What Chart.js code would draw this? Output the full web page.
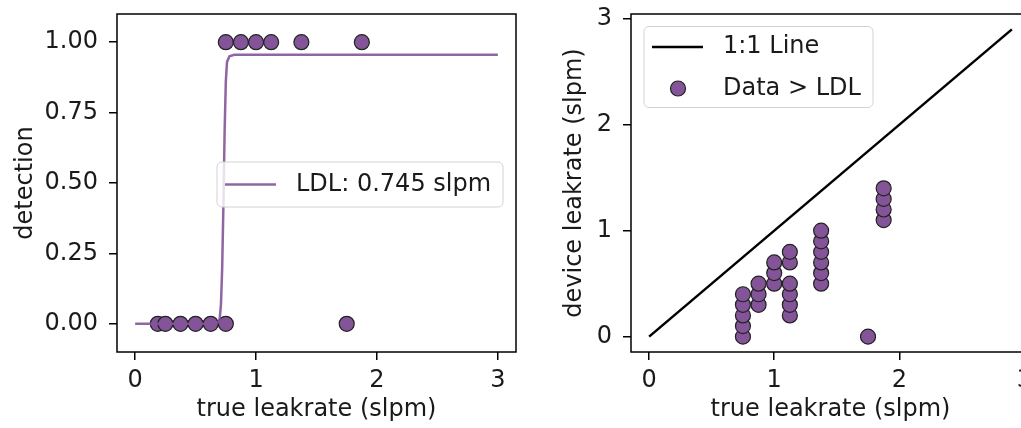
<!DOCTYPE html>
<html>
<head>
<meta charset="utf-8">
<script src="https://cdn.jsdelivr.net/npm/chart.js@4.4.1/dist/chart.umd.min.js"></script>
<style>
  html, body { margin: 0; padding: 0; background: #fff; width: 1021px; height: 428px; overflow: hidden; }
  .panel { position: absolute; top: 0; }
  #leftPanel { left: 0; }
  #rightPanel { left: 530px; }
</style>
</head>
<body>
<div class="panel" id="leftPanel"><canvas id="detChart" width="530" height="428"></canvas></div>
<div class="panel" id="rightPanel"><canvas id="rateChart" width="530" height="428"></canvas></div>
<script>
// left panel: detected (1) / missed (0) per release vs true leak rate
const DET_RATE = [0.1875, 0.25, 0.375, 0.5, 0.625, 0.75, 1.75, 0.75, 0.875, 1.0, 1.125, 1.375, 1.875];
const DET_HIT  = [0, 0, 0, 0, 0, 0, 0, 1, 1, 1, 1, 1, 1];
// fitted detection curve
const FIT_X = [0, 0.6, 0.69, 0.70, 0.71, 0.72, 0.73, 0.74, 0.75, 0.76, 0.78, 0.82, 3.0];
const FIT_Y = [0, 0, 0.005, 0.02, 0.07, 0.2, 0.42, 0.68, 0.86, 0.93, 0.95, 0.955, 0.955];
const LDL_LABEL = "LDL: 0.745 slpm";

// right panel: device reading vs true rate, detections only
const TRUE_RATE   = [0.75, 0.75, 0.75, 0.75, 0.75, 0.875, 0.875, 0.875, 1.0, 1.0, 1.0,
                     1.125, 1.125, 1.125, 1.125, 1.125, 1.125, 1.375, 1.375, 1.375, 1.375, 1.375, 1.375,
                     1.875, 1.875, 1.875, 1.875, 1.75];
const DEVICE_RATE = [0, 0.1, 0.2, 0.3, 0.4, 0.3, 0.4, 0.5, 0.5, 0.6, 0.7,
                     0.2, 0.3, 0.4, 0.5, 0.7, 0.8, 0.5, 0.6, 0.7, 0.8, 0.9, 1.0,
                     1.1, 1.2, 1.3, 1.4, 0];
const ONE_TO_ONE = [0, 2.9];

const X_TICKS = [0, 1, 2, 3];
const DET_TICKS = [0, 0.25, 0.5, 0.75, 1.0];
const RATE_TICKS = [0, 1, 2, 3];

const PURPLE = "rgb(132, 84, 152)";
const TEXT = "#1a1a1a";
const FS = 24;

Chart.defaults.font.family = "'DejaVu Sans', sans-serif";
Chart.defaults.font.size = FS;
Chart.defaults.color = TEXT;

function pts(xs, ys){ return xs.map((x, i) => ({ x, y: ys[i] })); }

// matplotlib-ish box around the axes
const frame = {
  id: "frame",
  afterDatasetsDraw(chart){
    const { ctx, chartArea: a } = chart;
    ctx.save();
    ctx.strokeStyle = "#000";
    ctx.lineWidth = 1.5;
    ctx.strokeRect(a.left, a.top, a.right - a.left, a.bottom - a.top);
    ctx.restore();
  }
};

// legend box drawn inside the plot area; o.items = dataset indices in legend order
const boxLegend = {
  id: "boxLegend",
  afterDraw(chart, args, o){
    const { ctx, chartArea: a } = chart;
    const x = a.left + o.dx, y = a.top + o.dy;
    ctx.save();
    ctx.beginPath();
    ctx.roundRect(x, y, o.w, o.h, 5);
    ctx.fillStyle = "rgba(255,255,255,0.8)";
    ctx.fill();
    ctx.strokeStyle = "#d2d2d2";
    ctx.lineWidth = 1;
    ctx.stroke();
    o.items.forEach((di, i) => {
      const ds = chart.data.datasets[di];
      const cy = y + o.row0 + i * o.rowGap;
      if (ds.showLine) {
        ctx.beginPath();
        ctx.moveTo(x + 8, cy);
        ctx.lineTo(x + 59, cy);
        ctx.strokeStyle = ds.borderColor;
        ctx.lineWidth = ds.borderWidth;
        ctx.stroke();
      } else {
        ctx.beginPath();
        ctx.arc(x + 34, cy, ds.pointRadius, 0, Math.PI * 2);
        ctx.fillStyle = ds.backgroundColor;
        ctx.fill();
        ctx.strokeStyle = ds.borderColor;
        ctx.lineWidth = ds.borderWidth;
        ctx.stroke();
      }
      ctx.fillStyle = TEXT;
      ctx.font = FS + "px 'DejaVu Sans', sans-serif";
      ctx.textBaseline = "middle";
      ctx.textAlign = "left";
      ctx.fillText(ds.label, x + 79, cy);
    });
    ctx.restore();
  }
};

function axis(min, max, ticks, title, fmt, horizontal, size, titlePad){
  return {
    type: "linear",
    min, max,
    afterBuildTicks: s => { s.ticks = ticks.map(v => ({ value: v })); },
    afterFit: s => {
      if (horizontal) { s.height = size; s.paddingLeft = 0; s.paddingRight = 0; }
      else { s.width = size; s.paddingTop = 0; s.paddingBottom = 0; }
    },
    grid: { display: true, drawOnChartArea: false, drawTicks: true, tickLength: 8, color: "#000", lineWidth: 1.5 },
    border: { display: false },
    ticks: { padding: horizontal ? 6 : 11, color: TEXT, autoSkip: false, maxRotation: 0, callback: fmt },
    title: { display: true, text: title, color: TEXT, padding: titlePad }
  };
}

const common = {
  responsive: false,
  animation: false,
  events: []
};

const dotStyle = { backgroundColor: PURPLE, borderColor: "#222", borderWidth: 1.2, pointRadius: 7.5 };

new Chart(document.getElementById("detChart"), {
  type: "scatter",
  data: {
    datasets: [
      { label: LDL_LABEL, data: pts(FIT_X, FIT_Y), showLine: true, borderColor: "rgba(132,84,152,0.9)",
        borderWidth: 2.5, pointRadius: 0, tension: 0, order: 0 },
      { label: "detections", data: pts(DET_RATE, DET_HIT), ...dotStyle, order: 1 }
    ]
  },
  options: {
    ...common,
    layout: { padding: { top: 14, right: 14, left: 0, bottom: 0 } },
    scales: {
      x: axis(-0.15, 3.15, X_TICKS, "true leakrate (slpm)", v => String(v), true, 76, { top: 0, bottom: 4 }),
      y: axis(-0.1, 1.1, DET_TICKS, "detection", v => v.toFixed(2), false, 117, { top: 11, bottom: 0 })
    },
    plugins: {
      legend: { display: false }, tooltip: { enabled: false },
      boxLegend: { items: [0], dx: 100, dy: 148, w: 286, h: 45, row0: 22.5, rowGap: 0 }
    }
  },
  plugins: [frame, boxLegend]
});

new Chart(document.getElementById("rateChart"), {
  type: "scatter",
  data: {
    datasets: [
      { label: "1:1 Line", data: pts(ONE_TO_ONE, ONE_TO_ONE), showLine: true, borderColor: "#000",
        borderWidth: 2.5, pointRadius: 0, tension: 0, order: 0 },
      { label: "Data > LDL", data: pts(TRUE_RATE, DEVICE_RATE), ...dotStyle, order: 1 }
    ]
  },
  options: {
    ...common,
    layout: { padding: { top: 14, right: 30, left: 0, bottom: 0 } },
    scales: {
      x: axis(-0.145, 3.045, X_TICKS, "true leakrate (slpm)", v => String(v), true, 76, { top: 0, bottom: 4 }),
      y: axis(-0.145, 3.045, RATE_TICKS, "device leakrate (slpm)", v => String(v), false, 101, { top: 30, bottom: 0 })
    },
    plugins: {
      legend: { display: false }, tooltip: { enabled: false },
      boxLegend: { items: [0, 1], dx: 13, dy: 12.5, w: 229, h: 81, row0: 20.5, rowGap: 41.5 }
    }
  },
  plugins: [frame, boxLegend]
});
</script>
</body>
</html>
